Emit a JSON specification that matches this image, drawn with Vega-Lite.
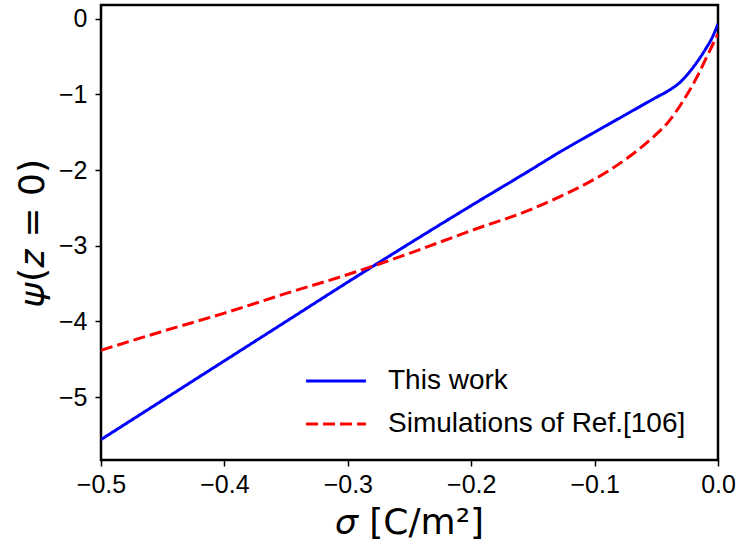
{
  "$schema": "https://vega.github.io/schema/vega-lite/v6.json",
  "width": 617,
  "height": 455,
  "autosize": {"type": "none"},
  "padding": {"left": 101, "top": 5, "right": 22, "bottom": 86},
  "background": "white",
  "config": {
    "view": {"stroke": "black", "strokeWidth": 2.5},
    "axis": {
      "domain": false,
      "grid": false,
      "tickColor": "black",
      "tickSize": 6,
      "tickWidth": 1.5,
      "labelFont": "Liberation Sans",
      "labelFontSize": 25,
      "labelColor": "black",
      "labelFlush": false,
      "labelOverlap": false,
      "titleFont": "DejaVu Sans",
      "titleFontWeight": "normal",
      "titleFontSize": 36,
      "titleColor": "black"
    },
    "legend": {
      "labelFont": "Liberation Sans",
      "labelFontSize": 28,
      "labelColor": "black",
      "labelLimit": 0,
      "symbolType": "M-1.46,0H1.46",
      "symbolSize": 1681,
      "symbolStrokeWidth": 3,
      "symbolFillColor": "transparent",
      "labelOffset": 30,
      "rowPadding": 7,
      "padding": 0
    }
  },
  "data": {
    "values": [
      {"sigma": -0.5, "psi": -5.56, "series": "This work"},
      {"sigma": -0.45, "psi": -5.04, "series": "This work"},
      {"sigma": -0.4, "psi": -4.52, "series": "This work"},
      {"sigma": -0.35, "psi": -4.0, "series": "This work"},
      {"sigma": -0.3, "psi": -3.48, "series": "This work"},
      {"sigma": -0.25, "psi": -2.97, "series": "This work"},
      {"sigma": -0.2, "psi": -2.47, "series": "This work"},
      {"sigma": -0.15, "psi": -1.98, "series": "This work"},
      {"sigma": -0.128, "psi": -1.76, "series": "This work"},
      {"sigma": -0.1, "psi": -1.5, "series": "This work"},
      {"sigma": -0.075, "psi": -1.27, "series": "This work"},
      {"sigma": -0.05, "psi": -1.04, "series": "This work"},
      {"sigma": -0.04, "psi": -0.95, "series": "This work"},
      {"sigma": -0.03, "psi": -0.83, "series": "This work"},
      {"sigma": -0.02, "psi": -0.64, "series": "This work"},
      {"sigma": -0.01, "psi": -0.4, "series": "This work"},
      {"sigma": -0.005, "psi": -0.26, "series": "This work"},
      {"sigma": 0.0, "psi": -0.07, "series": "This work"},
      {"sigma": -0.5, "psi": -4.38, "series": "Simulations of Ref.[106]"},
      {"sigma": -0.45, "psi": -4.13, "series": "Simulations of Ref.[106]"},
      {"sigma": -0.4, "psi": -3.89, "series": "Simulations of Ref.[106]"},
      {"sigma": -0.35, "psi": -3.63, "series": "Simulations of Ref.[106]"},
      {"sigma": -0.3, "psi": -3.38, "series": "Simulations of Ref.[106]"},
      {"sigma": -0.25, "psi": -3.1, "series": "Simulations of Ref.[106]"},
      {"sigma": -0.2, "psi": -2.8, "series": "Simulations of Ref.[106]"},
      {"sigma": -0.15, "psi": -2.51, "series": "Simulations of Ref.[106]"},
      {"sigma": -0.128, "psi": -2.35, "series": "Simulations of Ref.[106]"},
      {"sigma": -0.1, "psi": -2.12, "series": "Simulations of Ref.[106]"},
      {"sigma": -0.075, "psi": -1.86, "series": "Simulations of Ref.[106]"},
      {"sigma": -0.055, "psi": -1.6, "series": "Simulations of Ref.[106]"},
      {"sigma": -0.04, "psi": -1.36, "series": "Simulations of Ref.[106]"},
      {"sigma": -0.028, "psi": -1.08, "series": "Simulations of Ref.[106]"},
      {"sigma": -0.017, "psi": -0.77, "series": "Simulations of Ref.[106]"},
      {"sigma": -0.009, "psi": -0.5, "series": "Simulations of Ref.[106]"},
      {"sigma": -0.003, "psi": -0.3, "series": "Simulations of Ref.[106]"},
      {"sigma": 0.0, "psi": -0.2, "series": "Simulations of Ref.[106]"}
    ]
  },
  "mark": {"type": "line", "strokeWidth": 3, "clip": true, "interpolate": "monotone"},
  "encoding": {
    "x": {
      "field": "sigma",
      "type": "quantitative",
      "scale": {"domain": [-0.5, 0.0], "nice": false, "zero": false},
      "axis": {"values": [-0.5, -0.4, -0.3, -0.2, -0.1, 0.0], "format": ".1f", "labelPadding": 6, "title": "𝜎 [C/m²]", "titlePadding": 8}
    },
    "y": {
      "field": "psi",
      "type": "quantitative",
      "scale": {"domain": [-5.83, 0.18], "nice": false, "zero": false},
      "axis": {"values": [0, -1, -2, -3, -4, -5], "format": "d", "labelPadding": 8, "title": "𝜓(𝑧 = 0)", "titlePadding": 7}
    },
    "color": {
      "field": "series",
      "type": "nominal",
      "sort": ["This work", "Simulations of Ref.[106]"],
      "scale": {"domain": ["This work", "Simulations of Ref.[106]"], "range": ["#0000ff", "#ff0000"]},
      "legend": {"title": null, "orient": "none", "legendX": 213, "legendY": 354}
    },
    "strokeDash": {
      "field": "series",
      "type": "nominal",
      "sort": ["This work", "Simulations of Ref.[106]"],
      "scale": {"domain": ["This work", "Simulations of Ref.[106]"], "range": [[1, 0], [12, 5]]},
      "legend": {"title": null, "orient": "none", "legendX": 213, "legendY": 354}
    }
  }
}
